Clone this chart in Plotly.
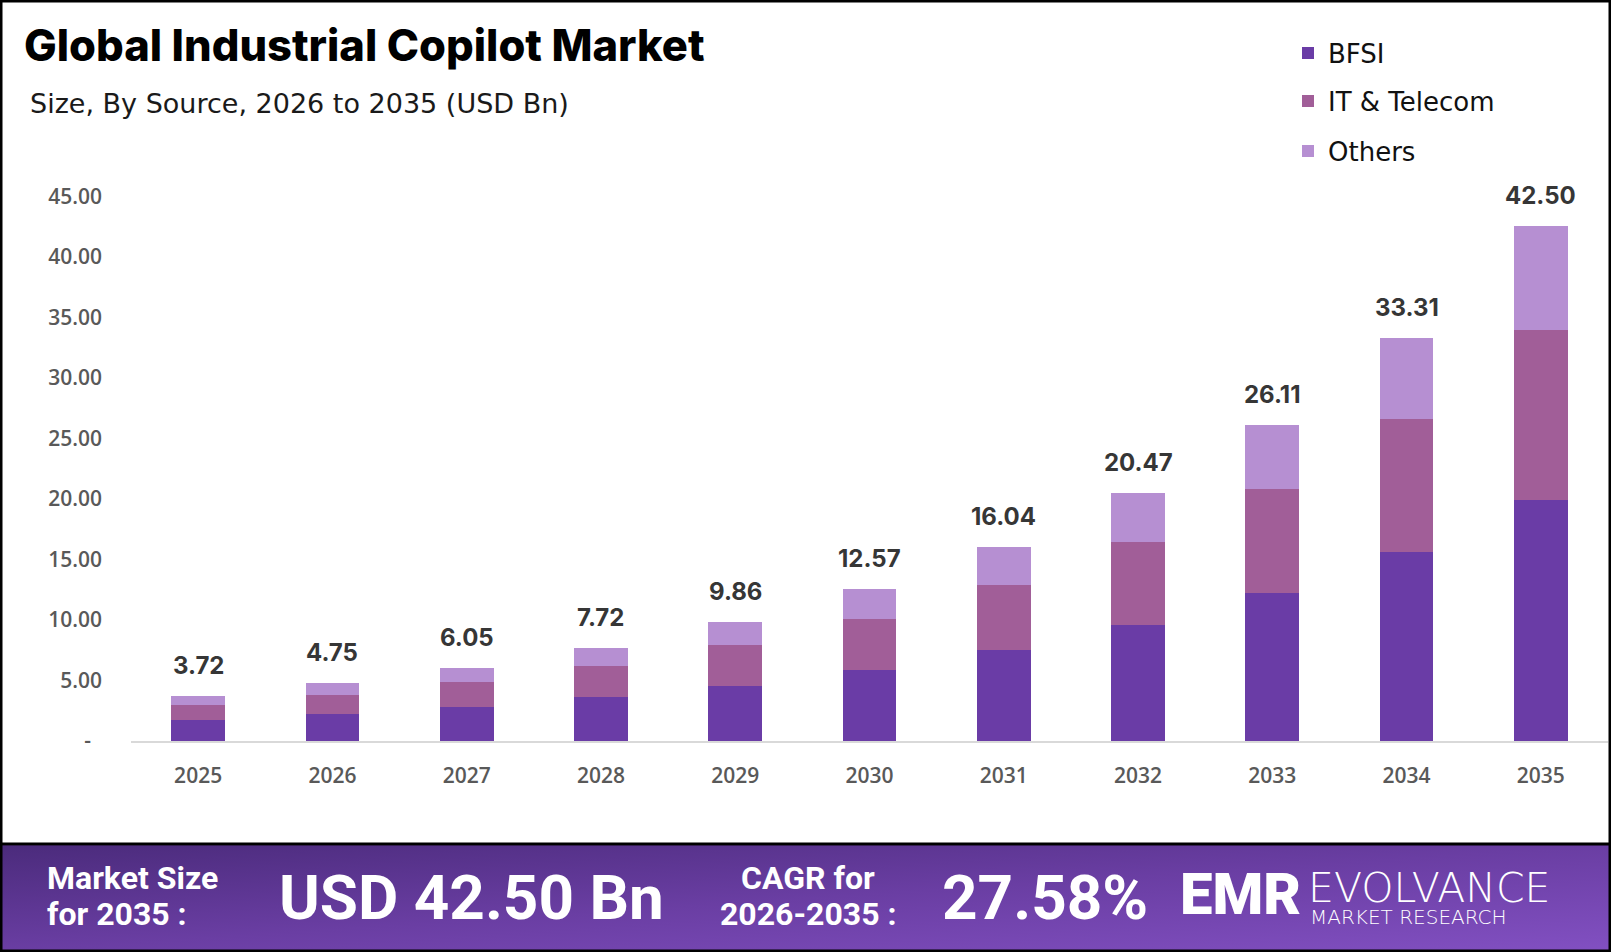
import base64
import plotly.graph_objects as go

# ---------------- data ----------------
years = ["2025", "2026", "2027", "2028", "2029", "2030", "2031", "2032", "2033", "2034", "2035"]
bfsi = [1.72, 2.22, 2.85, 3.62, 4.57, 5.90, 7.52, 9.60, 12.20, 15.60, 19.90]
it_telecom = [1.25, 1.58, 2.01, 2.56, 3.32, 4.14, 5.33, 6.82, 8.63, 11.01, 14.02]
others = [0.75, 0.95, 1.19, 1.54, 1.97, 2.53, 3.19, 4.05, 5.28, 6.70, 8.58]
totals = [3.72, 4.75, 6.05, 7.72, 9.86, 12.57, 16.04, 20.47, 26.11, 33.31, 42.50]
y_tickvals = [0, 5, 10, 15, 20, 25, 30, 35, 40, 45]
y_ticktext = ["-\u00a0\u00a0", "5.00", "10.00", "15.00", "20.00", "25.00", "30.00", "35.00", "40.00", "45.00"]

# ---------------- geometry ----------------
W, H = 1611, 952
L, R, T, B = 131, 3, 172, 211
PW, PH = W - L - R, H - T - B


def px(x):
    return (x - L) / PW


def py(y):
    return (H - B - y) / PH


C_BFSI = "#6a3ca6"
C_IT = "#a15e98"
C_OTH = "#b68fd2"

fig = go.Figure()
fig.add_trace(go.Bar(x=years, y=bfsi, name="BFSI", marker=dict(color=C_BFSI, line=dict(width=0)), legend="legend"))
fig.add_trace(go.Bar(x=years, y=it_telecom, name="IT & Telecom", marker=dict(color=C_IT, line=dict(width=0)), legend="legend2"))
fig.add_trace(go.Bar(x=years, y=others, name="Others", marker=dict(color=C_OTH, line=dict(width=0)), legend="legend3"))

annotations = []
for i, tot in enumerate(totals):
    annotations.append(dict(x=i, y=tot, xref="x", yref="y", text=f"{tot:.2f}", showarrow=False,
                            yanchor="bottom", yshift=14,
                            font=dict(family="Inter", size=24, color="#363636", weight=700)))

# title & subtitle
annotations.append(dict(x=px(22), y=py(45), xref="paper", yref="paper", xanchor="left", yanchor="middle",
                        text="Global Industrial Copilot Market", showarrow=False,
                        font=dict(family="Inter", size=43.5, color="#000000", weight=800)))
annotations.append(dict(x=px(28), y=py(104), xref="paper", yref="paper", xanchor="left", yanchor="middle",
                        text="Size, By Source, 2026 to 2035 (USD Bn)", showarrow=False,
                        font=dict(family="DejaVu Sans", size=27, color="#1a1a1a")))

# footer texts
white = "#ffffff"
small_bold = dict(family="Roboto", size=32, color=white, weight=700)
big_bold = dict(family="Roboto", size=62, color=white, weight=700)
annotations += [
    dict(x=px(45), y=py(878), xref="paper", yref="paper", xanchor="left", yanchor="middle",
         text="Market Size", showarrow=False, font=small_bold),
    dict(x=px(45), y=py(914), xref="paper", yref="paper", xanchor="left", yanchor="middle",
         text="for 2035 :", showarrow=False, font=small_bold),
    dict(x=px(471), y=py(897), xref="paper", yref="paper", xanchor="center", yanchor="middle",
         text="USD 42.50 Bn", showarrow=False, font=big_bold),
    dict(x=px(808), y=py(878), xref="paper", yref="paper", xanchor="center", yanchor="middle",
         text="CAGR for", showarrow=False, font=small_bold),
    dict(x=px(808), y=py(914), xref="paper", yref="paper", xanchor="center", yanchor="middle",
         text="2026-2035 :", showarrow=False, font=small_bold),
    dict(x=px(1045), y=py(897), xref="paper", yref="paper", xanchor="center", yanchor="middle",
         text="27.58%", showarrow=False, font=big_bold),
    dict(x=px(1240), y=py(894), xref="paper", yref="paper", xanchor="center", yanchor="middle",
         text="EMR", showarrow=False,
         font=dict(family="Roboto", size=58, color=white, weight=900)),
    dict(x=px(1306), y=py(888), xref="paper", yref="paper", xanchor="left", yanchor="middle",
         text="EVOLVANCE", showarrow=False,
         font=dict(family="DejaVu Sans", size=41, color=white, weight=200)),
    dict(x=px(1308), y=py(917), xref="paper", yref="paper", xanchor="left", yanchor="middle",
         text="MARKET RESEARCH", showarrow=False,
         font=dict(family="DejaVu Sans", size=20, color=white, weight=300)),
]

# footer gradient via svg image
svg = ("<svg xmlns='http://www.w3.org/2000/svg' width='1611' height='108' viewBox='0 0 1611 108' preserveAspectRatio='none'>"
       "<defs><linearGradient id='g' x1='0' y1='0' x2='1' y2='1'>"
       "<stop offset='0' stop-color='#4b2b7c'/><stop offset='0.5' stop-color='#6a3ea3'/>"
       "<stop offset='1' stop-color='#8250c2'/></linearGradient></defs>"
       "<rect width='1611' height='108' fill='url(#g)'/></svg>")
src = "data:image/svg+xml;base64," + base64.b64encode(svg.encode()).decode()

shapes = [
    dict(type="rect", xref="paper", yref="paper", x0=px(0), x1=px(W), y0=py(H), y1=py(844),
         fillcolor="#6a3ea3", line=dict(width=0), layer="below"),
    dict(type="line", xref="paper", yref="paper", x0=px(0), x1=px(W), y0=py(844), y1=py(844),
         line=dict(color="#000000", width=3)),
    dict(type="rect", xref="paper", yref="paper", x0=px(1), x1=px(W - 1), y0=py(H - 1), y1=py(1),
         line=dict(color="#000000", width=3), fillcolor="rgba(0,0,0,0)"),
]

leg_font = dict(family="DejaVu Sans", size=26, color="#111111")
fig.update_layout(
    width=W, height=H,
    margin=dict(l=L, r=R, t=T, b=B, pad=0),
    paper_bgcolor="#ffffff", plot_bgcolor="#ffffff",
    barmode="stack", bargap=0.6,
    showlegend=True,
    legend=dict(x=px(1288), y=py(53), xanchor="left", yanchor="middle", font=leg_font, bgcolor="rgba(0,0,0,0)"),
    legend2=dict(x=px(1288), y=py(101), xanchor="left", yanchor="middle", font=leg_font, bgcolor="rgba(0,0,0,0)"),
    legend3=dict(x=px(1288), y=py(151), xanchor="left", yanchor="middle", font=leg_font, bgcolor="rgba(0,0,0,0)"),
    xaxis=dict(type="category", range=[-0.5, 10.5], showgrid=False, zeroline=False,
               showline=True, linecolor="#d9d9d9", linewidth=2, ticks="",
               ticklabelstandoff=15,
               tickfont=dict(family="Open Sans", size=21, color="#595959", weight=600)),
    yaxis=dict(range=[0, 47], tickvals=y_tickvals, ticktext=y_ticktext, showgrid=False,
               zeroline=False, showline=False, ticks="", ticklabelstandoff=28,
               tickfont=dict(family="Open Sans", size=21, color="#595959", weight=600)),
    annotations=annotations,
    shapes=shapes,
    images=[dict(source=src, xref="paper", yref="paper", x=px(0), y=py(845.5), sizex=W / PW,
                 sizey=(H - 845.5) / PH, xanchor="left", yanchor="top", sizing="stretch", layer="above")],
)

fig.write_html("out.html")
